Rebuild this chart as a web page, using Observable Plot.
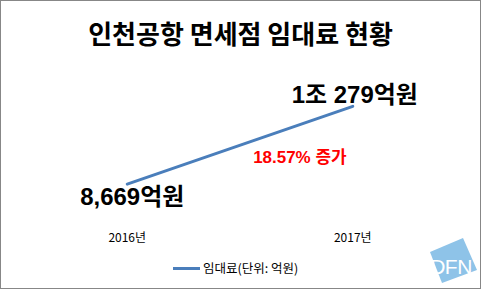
<!DOCTYPE html>
<html>
<head>
<meta charset="utf-8">
<script src="https://cdn.jsdelivr.net/npm/d3@7"></script>
<script src="https://cdn.jsdelivr.net/npm/@observablehq/plot@0.6"></script>
<style>
  html, body { margin: 0; padding: 0; background: #fff; }
  #wrap { position: relative; width: 481px; height: 289px; box-sizing: border-box; border: 1px solid #878787; overflow: hidden; font-family: "Noto Sans CJK KR", sans-serif; }
  #title { position: absolute; left: 0; top: 14px; width: 479px; text-align: center; font-size: 26px; font-weight: bold; line-height: 36px; color: #000; }
  #chart { position: absolute; left: -1px; top: -1px; }
  #legend { position: absolute; left: 172px; top: 258px; font-size: 12.5px; line-height: 18px; color: #000; display: flex; align-items: center; }
  #legend .sw { display: inline-block; width: 27px; height: 3px; background: #4A7EBB; margin-right: 3px; }
  #logo { position: absolute; left: 420px; top: 232px; }
</style>
</head>
<body>
<div id="wrap">
  <div id="title">인천공항 면세점 임대료 현황</div>
  <div id="chart"></div>
  <div id="legend"><span class="sw"></span><span>임대료(단위: 억원)</span></div>
  <svg id="logo" width="60" height="56" viewBox="0 0 60 56">
    <polygon points="9,19 42,5 56,37 21,50" fill="#8ec3e8"/>
    <text x="30" y="41" text-anchor="middle" font-family="Liberation Sans, sans-serif" font-size="21" fill="#fff" letter-spacing="-0.5">DFN</text>
  </svg>
</div>
<script>
const years = [2016, 2017];
const values = [8669, 10279];
const labels = ["8,669억원", "1조 279억원"];
const changeText = ((values[1] - values[0]) / values[0] * 100).toFixed(2) + "% 증가";

const data = years.map((y, i) => ({year: y, value: values[i], label: labels[i]}));

const chart = Plot.plot({
  width: 481,
  height: 289,
  marginLeft: 127,
  marginRight: 128,
  marginTop: 60,
  marginBottom: 64,
  x: {domain: [2016, 2017], label: null},
  y: {domain: [7823, 11229], axis: null},
  style: {background: "transparent", overflow: "visible"},
  marks: [
    Plot.axisX({ticks: years, tickSize: 0, tickPadding: 8, label: null, tickFormat: d => d + "년", fontSize: 12, fontFamily: "'Noto Sans CJK KR', sans-serif", fill: "#000"}),
    Plot.line(data, {x: "year", y: "value", stroke: "#4A7EBB", strokeWidth: 3}),
    Plot.text([data[0]], {x: "year", y: "value", text: "label", dx: 5, dy: 13, fontSize: 24, fontWeight: "bold", fontFamily: "'Liberation Sans', 'Noto Sans CJK KR', sans-serif", fill: "#000"}),
    Plot.text([data[1]], {x: "year", y: "value", text: "label", dx: 2, dy: -11, fontSize: 24, fontWeight: "bold", fontFamily: "'Liberation Sans', 'Noto Sans CJK KR', sans-serif", fill: "#000"}),
    Plot.text([data[1]], {x: "year", y: "value", text: () => changeText, dx: -53, dy: 51, fontSize: 17, fontWeight: "bold", fontFamily: "'Liberation Sans', 'Noto Sans CJK KR', sans-serif", fill: "#ff0000"})
  ]
});
document.getElementById("chart").appendChild(chart);
</script>
</body>
</html>
